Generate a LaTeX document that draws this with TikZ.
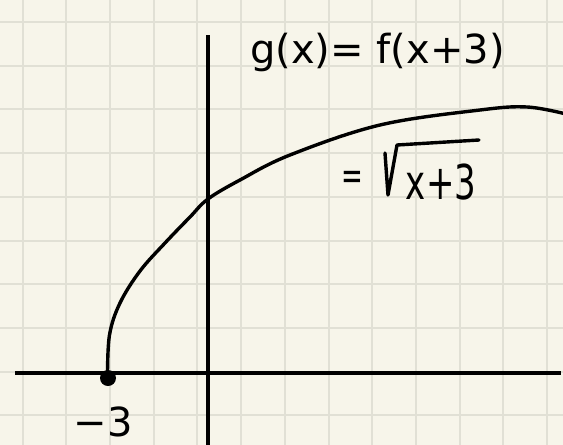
\documentclass[tikz,border=0pt]{standalone}
\usepackage{fontspec}
\setmainfont{DejaVu Sans}
\definecolor{paper}{HTML}{F7F5EA}
\definecolor{gridc}{HTML}{E1E0D5}
\begin{document}
\begin{tikzpicture}[x=1pt,y=-1pt, line join=round,
  gridline/.style={gridc, line width=2pt},
  axis/.style={line width=3.4pt, black},
  curvestyle/.style={line width=3.4pt, black, line cap=round},
  hand/.style={font=\fontsize{40}{40}\selectfont, inner sep=0pt, text=black}]
\fill[paper] (0,0) rectangle (563,445);
\useasboundingbox (0,0) rectangle (563,445);
\foreach \i in {0,...,12} \draw[gridline] ({22.6+43.7*\i},-2) -- ({22.6+43.7*\i},447);
\foreach \j in {0,...,9} \draw[gridline] (-2,{22+43.7*\j}) -- (565,{22+43.7*\j});
% axes
\coordinate (xl) at (15,373);
\coordinate (xr) at (561,373);
\coordinate (yt) at (208,35);
\coordinate (yb) at (208,447);
\draw[axis] (xl) -- (xr);
\draw[axis] (yt) -- (yb);
% curve
\draw[curvestyle] plot[smooth, tension=0.6] coordinates {(107.5,376) (109.5,335) (120,303) (140,271) (165,243) (190,217) (208,199) (240,180) (290,155) (380,125) (480,110) (527,107) (566,114)};
\node[circle, fill=black, minimum size=16pt, inner sep=0pt] (dot) at (108,378) {};
% labels
\node[hand, anchor=base west] (title) at (250,63) {g(x)= f(x+3)};
\node[hand, anchor=center] (eq) at (352,180) {\scalebox{0.65}[1]{=}};
\draw[curvestyle] (385,153) -- (388,195) -- (397,145) -- (479,140);
\node[hand, anchor=center] (rad) at (441,182) {\scalebox{0.85}[1.2]{x+3}};
\node[hand, anchor=center] (m3) at (103,422) {−3};
\end{tikzpicture}
\end{document}
